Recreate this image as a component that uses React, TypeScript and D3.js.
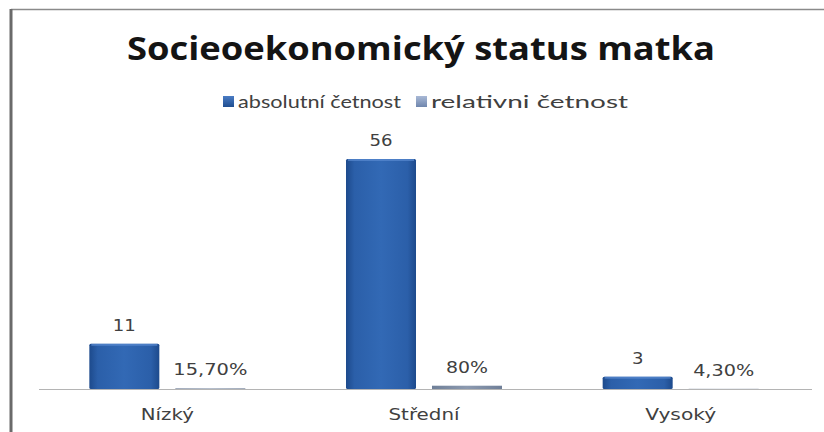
import React from "react";
import * as d3 from "d3";

const categories = ["Nízký", "Střední", "Vysoký"];
const series = ["absolutní četnost", "relativni četnost"];
const absoluteValues = [11, 56, 3];
const relativeValues = [0.157, 0.8, 0.043];
const absoluteLabels = ["11", "56", "3"];
const relativeLabels = ["15,70%", "80%", "4,30%"];
const title = "Socieoekonomický status matka";

const W = 824;
const H = 432;

export default function App() {
  const x0 = d3.scaleBand<string>().domain(categories).range([39, 809]).padding(0);
  const x1 = d3
    .scaleBand<string>()
    .domain(series)
    .range([0, 156])
    .paddingInner(0.186)
    .paddingOuter(0);
  const y = d3.scaleLinear().domain([0, 56]).range([389, 159]);
  const groupOffset = (x0.bandwidth() - 156) / 2;

  const charW = (s: string, per: number) => s.length * per;

  return (
    <svg
      width={W}
      height={H}
      style={{ position: "absolute", left: 0, top: 0, background: "#fff" }}
    >
      <defs>
        <linearGradient id="gAbs" x1="0" x2="1" y1="0" y2="0">
          <stop offset="0" stopColor="#1d4a8c" />
          <stop offset="0.12" stopColor="#2b5fa9" />
          <stop offset="0.5" stopColor="#3269b5" />
          <stop offset="0.88" stopColor="#2b5fa9" />
          <stop offset="1" stopColor="#1d4a8c" />
        </linearGradient>
        <linearGradient id="gRel" x1="0" x2="1" y1="0" y2="0">
          <stop offset="0" stopColor="#6f7f98" />
          <stop offset="0.5" stopColor="#8c9ab0" />
          <stop offset="1" stopColor="#6f7f98" />
        </linearGradient>
        <linearGradient id="gLeg1" x1="0" x2="0" y1="0" y2="1">
          <stop offset="0" stopColor="#4a7cc4" />
          <stop offset="1" stopColor="#1f4e90" />
        </linearGradient>
        <linearGradient id="gLeg2" x1="0" x2="0" y1="0" y2="1">
          <stop offset="0" stopColor="#a9b9d6" />
          <stop offset="1" stopColor="#6f86ad" />
        </linearGradient>
      </defs>

      {/* frame */}
      <rect x={0} y={0} width={W} height={H} fill="#fff" />
      <line x1={11} x2={W} y1={9.5} y2={9.5} stroke="#8a8a8a" strokeWidth={1.5} />
      <line x1={11} x2={11} y1={9} y2={H} stroke="#6a6a6a" strokeWidth={3} />

      {/* title */}
      <text
        x={421}
        y={60}
        textAnchor="middle"
        fontFamily="'Open Sans', sans-serif"
        fontWeight="bold"
        fontSize={32}
        fill="#141414"
        textLength={588}
        lengthAdjust="spacingAndGlyphs"
      >
        {title}
      </text>

      {/* legend */}
      <rect x={223} y={96} width={11} height={11} fill="url(#gLeg1)" />
      <text
        x={238}
        y={108}
        fontFamily="Lato, sans-serif"
        fontSize={17}
        fill="#404040"
        textLength={163}
        lengthAdjust="spacingAndGlyphs"
      >
        {series[0]}
      </text>
      <rect x={416} y={96} width={11} height={11} fill="url(#gLeg2)" />
      <text
        x={431}
        y={108}
        fontFamily="Lato, sans-serif"
        fontSize={17}
        fill="#404040"
        textLength={197}
        lengthAdjust="spacingAndGlyphs"
      >
        {series[1]}
      </text>

      {/* axis baseline */}
      <line x1={39} x2={812} y1={389.5} y2={389.5} stroke="#b4b4b4" strokeWidth={1} />

      {categories.map((c, i) => {
        const gx = (x0(c) ?? 0) + groupOffset;
        const ax = gx + (x1(series[0]) ?? 0);
        const rx = gx + (x1(series[1]) ?? 0);
        const bw = x1.bandwidth();
        const aTop = y(absoluteValues[i]);
        const rTop = y(relativeValues[i]);
        return (
          <g key={c}>
            <rect x={ax} y={aTop} width={bw} height={y(0) - aTop} fill="url(#gAbs)" rx={1.5} />
            <rect x={ax + 2} y={aTop} width={bw - 4} height={2} fill="#5a8ad0" opacity={0.7} />
            <rect x={rx} y={rTop} width={bw} height={y(0) - rTop} fill="url(#gRel)" />
            <text
              x={ax + bw / 2}
              y={aTop - 13}
              textAnchor="middle"
              fontFamily="'DejaVu Sans', sans-serif"
              fontSize={16}
              fill="#404040"
              textLength={charW(absoluteLabels[i], 11.5)}
              lengthAdjust="spacingAndGlyphs"
            >
              {absoluteLabels[i]}
            </text>
            <text
              x={rx + bw / 2}
              y={rTop - 13}
              textAnchor="middle"
              fontFamily="'DejaVu Sans', sans-serif"
              fontSize={16}
              fill="#404040"
              textLength={relativeLabels[i] === "80%" ? 42 : relativeLabels[i].length === 6 ? 74 : 61}
              lengthAdjust="spacingAndGlyphs"
            >
              {relativeLabels[i]}
            </text>
            <text
              x={(x0(c) ?? 0) + x0.bandwidth() / 2}
              y={420}
              textAnchor="middle"
              fontFamily="'DejaVu Sans', sans-serif"
              fontSize={16}
              fill="#404040"
              textLength={c.length === 5 ? 53 : 71}
              lengthAdjust="spacingAndGlyphs"
            >
              {c}
            </text>
          </g>
        );
      })}
    </svg>
  );
}
